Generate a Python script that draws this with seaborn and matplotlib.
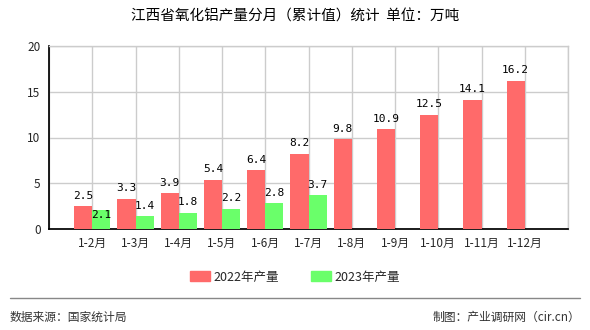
import matplotlib
matplotlib.use("Agg")
import matplotlib.pyplot as plt
import matplotlib.lines as mlines
import seaborn as sns
import pandas as pd
import numpy as np

months = ["1-2月", "1-3月", "1-4月", "1-5月", "1-6月", "1-7月", "1-8月", "1-9月", "1-10月", "1-11月", "1-12月"]
v2022 = [2.5, 3.3, 3.9, 5.4, 6.4, 8.2, 9.8, 10.9, 12.5, 14.1, 16.2]
v2023 = [2.1, 1.4, 1.8, 2.2, 2.8, 3.7]
series = ["2022年产量", "2023年产量"]
colors = ["#ff6a6a", "#6aff6a"]
title = "江西省氧化铝产量分月（累计值）统计  单位：万吨"

sns.set_theme(style="white")
plt.rcParams['font.family'] = ['Noto Sans CJK SC', 'DejaVu Sans']

rows = []
for m, v in zip(months, v2022):
    rows.append({"month": m, "value": v, "year": series[0]})
for i, m in enumerate(months):
    rows.append({"month": m, "value": v2023[i] if i < len(v2023) else np.nan, "year": series[1]})
df = pd.DataFrame(rows)

fig = plt.figure(figsize=(5.9, 3.3), dpi=100)
ax = fig.add_axes([49/590, 1-229/330, (568-49)/590, (229-46)/330])

sns.barplot(data=df, x="month", y="value", hue="year", order=months, hue_order=series,
            palette=colors, saturation=1, width=0.84, ax=ax, legend=False, zorder=3,
            linewidth=0, edgecolor="none")

ax.set_xlim(-1, 11)
ax.set_ylim(0, 20)
ax.set_yticks([0, 5, 10, 15, 20])
ax.set_xticks(range(-1, 12))
ax.set_xticklabels([""] + months + [""])
ax.tick_params(axis="x", direction="out", length=4, width=1, color="black", labelsize=8.5, pad=2)
ax.tick_params(axis="y", direction="out", length=4, width=1, color="black", labelsize=8.5, pad=2)
ax.grid(True, color="#cccccc", linewidth=1, zorder=0)
ax.set_axisbelow(True)
for s in ["top", "right"]:
    ax.spines[s].set_color("#cccccc")
    ax.spines[s].set_linewidth(1)
ax.spines["left"].set_color("black")
ax.spines["bottom"].set_color("black")
ax.set_xlabel("")
ax.set_ylabel("")

vals_all = [v2022, v2023]
for k, (cont, vals) in enumerate(zip(ax.containers, vals_all)):
    for i, (bar, v) in enumerate(zip(cont, vals)):
        if bar is None:
            continue
        dy = 4
        va = "bottom"
        # the reference pushes a label down into its bar when it would collide with its neighbour
        if k == 1 and abs(v2022[i] - v) < 0.6:
            dy = 0
            va = "top"
        ax.annotate(f"{v:.1f}", (bar.get_x() + bar.get_width() / 2, bar.get_height()),
                    xytext=(0, dy), textcoords="offset points", ha="center", va=va,
                    fontsize=8, color="black", family=["DejaVu Sans Mono"], zorder=5)

fig.text(0.5, 1-17/330, title, ha="center", va="center", fontsize=10.5, color="black")

handles = [plt.Rectangle((0, 0), 1, 1, color=c) for c in colors]
fig.legend(handles, series, loc="center", bbox_to_anchor=(0.5, 1-277/330), ncol=2,
           frameon=False, fontsize=9, handlelength=1.6, handleheight=0.8, columnspacing=2.5,
           handletextpad=0.3)

fig.add_artist(mlines.Line2D([10/590, 580/590], [1-298/330, 1-298/330], color="#888888", linewidth=1))
fig.text(10/590, 1-317/330, "数据来源：国家统计局", ha="left", va="center", fontsize=8.5, color="#333333")
fig.text(580/590, 1-317/330, "制图：产业调研网（cir.cn）", ha="right", va="center", fontsize=8.5, color="#333333")

fig.savefig("out.png", dpi=100)
